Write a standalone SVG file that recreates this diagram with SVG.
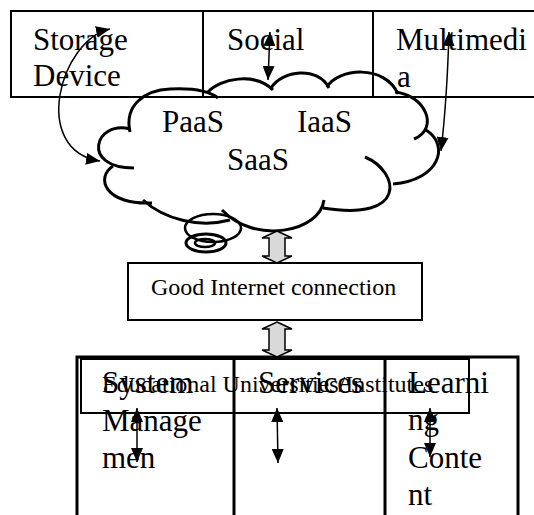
<svg xmlns="http://www.w3.org/2000/svg" width="534" height="515" viewBox="0 0 534 515">
<defs>
<style>
.big{font-family:"Liberation Serif","Times New Roman",serif;font-size:31px;fill:#000}
.small{font-family:"Liberation Serif","Times New Roman",serif;font-size:24px;fill:#000}
.tbl{fill:none;stroke:#000}
.cloud path{fill:none;stroke:#000;stroke-width:3;stroke-linecap:butt}
.cloud ellipse{fill:none;stroke:#000}
.conn{fill:none;stroke:#000;stroke-width:1.5}
.block{fill:#d9d9d9;stroke:#000;stroke-width:1.5;stroke-linejoin:miter}
</style>
<marker id="ah" viewBox="0 0 14 12" refX="14" refY="6" markerWidth="14" markerHeight="12" markerUnits="userSpaceOnUse" orient="auto-start-reverse">
<path d="M0,0 L14,6 L0,12 z" fill="#000"/>
</marker>
</defs>
<rect width="534" height="515" fill="#fff"/>

<g id="top-table">
<rect class="tbl" x="11" y="11" width="540" height="86" stroke-width="2"/>
<line class="tbl" x1="203" y1="11" x2="203" y2="97" stroke-width="2"/>
<line class="tbl" x1="373" y1="11" x2="373" y2="97" stroke-width="2"/>
</g>
<g id="storage"><text class="big" x="33" y="50">Storage</text><text class="big" x="33" y="86">Device</text></g>
<g id="social"><text class="big" x="227" y="50">Social</text></g>
<g id="multimedia"><text class="big" x="396" y="50">Multimedi</text><text class="big" x="397" y="87">a</text></g>

<g id="cloud" class="cloud">
<path d="M130,132 C124,105 145,90 170,89 C190,88 208,90 218,98"/>
<path d="M207,93 C220,78 255,72 273,90"/>
<path d="M271,88 C282,70 318,66 329,88"/>
<path d="M327,87 C338,68 385,64 398,94"/>
<path d="M395,92 C425,95 440,128 414,139"/>
<path d="M426,130 C450,145 440,180 393,184"/>
<path d="M365,157 C400,172 408,222 323,208"/>
<path d="M324,200 C320,232 255,245 222,210"/>
<path d="M143,200 C165,220 200,228 230,220"/>
<path d="M113,166 C95,178 105,205 152,203"/>
<path d="M130,129 C95,120 80,168 134,168"/>
<ellipse cx="213" cy="228" rx="28" ry="14" stroke-width="2.5"/>
<ellipse cx="206" cy="243" rx="20" ry="9" stroke-width="3"/>
<ellipse cx="205" cy="243" rx="10" ry="4" stroke-width="2.5"/>
<text class="big" x="162" y="132">PaaS</text>
<text class="big" x="297" y="132">IaaS</text>
<text class="big" x="227" y="170">SaaS</text>
</g>

<g id="internet">
<rect class="tbl" x="128" y="263" width="294" height="57" stroke-width="2"/>
<text class="small" x="151" y="295">Good Internet connection</text>
</g>

<g id="bottom-table">
<rect class="tbl" x="77" y="357" width="441" height="170" stroke-width="3"/>
<line class="tbl" x1="234" y1="357" x2="234" y2="515" stroke-width="3"/>
<line class="tbl" x1="385" y1="357" x2="385" y2="515" stroke-width="3"/>
</g>
<g id="institutes">
<rect class="tbl" x="81" y="359" width="388" height="54" stroke-width="2"/>
<text class="small" x="102" y="392">Educational Universities/Institutes</text>
</g>
<g id="system"><text class="big" x="102" y="393">System</text><text class="big" x="102" y="431">Manage</text><text class="big" x="102" y="468">men</text></g>
<g id="services"><text class="big" x="258" y="393">Services</text></g>
<g id="learning"><text class="big" x="408" y="393">Learni</text><text class="big" x="408" y="430">ng</text><text class="big" x="408" y="468">Conte</text><text class="big" x="408" y="505">nt</text></g>

<g id="connectors">
<path class="conn" d="M100,161 C30,150 60,40 110,29" marker-start="url(#ah)" marker-end="url(#ah)"/>
<path class="conn" d="M270,32 L268,80" marker-start="url(#ah)" marker-end="url(#ah)"/>
<path class="conn" d="M449,32 Q447,100 441,151" marker-start="url(#ah)" marker-end="url(#ah)"/>
<path class="conn" d="M137,408 L137,462" marker-start="url(#ah)" marker-end="url(#ah)"/>
<path class="conn" d="M277,408 L278,463" marker-start="url(#ah)" marker-end="url(#ah)"/>
<path class="conn" d="M430,408 L430,457" marker-start="url(#ah)" marker-end="url(#ah)"/>
<polygon class="block" points="277,231 292,238 285,238 285,256 292,256 277,263 262,256 269,256 269,238 262,238"/>
<polygon class="block" points="277,322 292,329 285,329 285,350 292,350 277,357 262,350 269,350 269,329 262,329"/>
</g>
</svg>
